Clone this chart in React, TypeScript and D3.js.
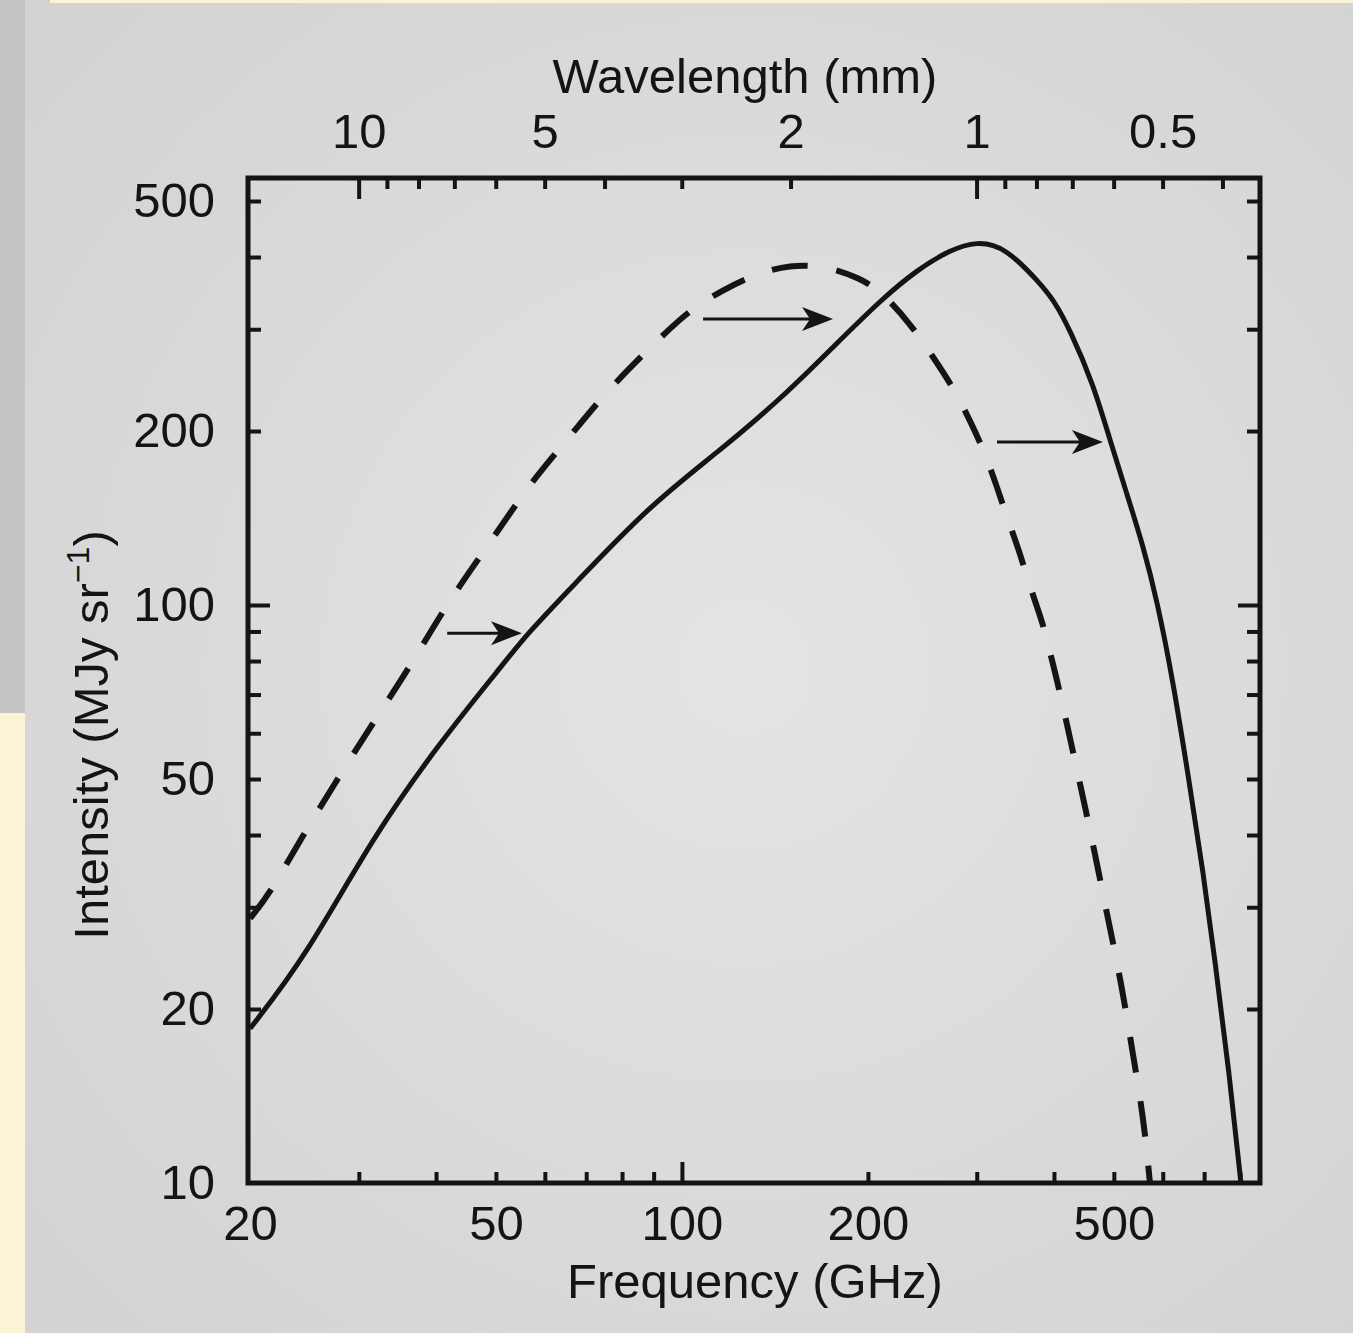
import { useEffect, useRef } from "react";
import * as d3 from "d3";

// c in mm*GHz, to turn frequency into wavelength for the top axis
const C_MM_GHZ = 299.79;

// solid curve (GHz / MJy sr^-1)
const solidFreq = [20, 24.6, 31.6, 40.6, 50.8, 56.1, 66.6, 88.8, 113.9, 145.7, 175.6, 211.5, 240.1, 271.5, 300.2, 333.3, 379.7, 401.5, 424.6, 462.5, 492.8, 525, 557.2, 587.2, 623, 661.4, 696.8, 728.6, 767.6, 802.8];
const solidInt = [18.5, 24.6, 39.7, 57.9, 77.8, 89.1, 107.9, 148.9, 183.2, 229, 279.5, 339.8, 379.8, 411.4, 426, 416.4, 360.6, 334.4, 299.1, 242.2, 193, 155.5, 127, 102, 74.2, 49.8, 34.8, 24.3, 15.7, 10];

// dashed curve
const dashedFreq = [20, 21.5, 24.1, 27.2, 31.3, 36.3, 41.7, 48.9, 56.8, 65.2, 76.5, 93.2, 103, 116.5, 130.3, 149.6, 171.7, 194.1, 211.5, 236.4, 254.9, 274.5, 292.4, 309.4, 323.5, 337, 352.4, 367.1, 383.9, 397, 409, 432.6, 459, 485.4, 513.4, 536.9, 559.4, 572];
const dashedInt = [28.7, 31.6, 39.2, 48.4, 61.5, 78.1, 100.8, 128, 162.6, 193, 238.4, 293.2, 323.8, 350.8, 372.3, 388.5, 385.5, 367.9, 346.7, 302.7, 268.6, 238.4, 208.9, 183.2, 160, 140.3, 123, 106.2, 93.1, 80.3, 70.7, 53.7, 40.3, 29.8, 22.4, 16.7, 12.8, 10];

// arrows from the dashed to the solid curve
const arrowFrom = [41.7, 108.2, 323.5];
const arrowTo = [55.1, 175.6, 480.1];
const arrowLevel = [89.4, 312.4, 191.4];

// ticks
const freqLabels = [20, 50, 100, 200, 500];
const freqMajor = [100];
const freqMinor = [30, 40, 50, 60, 70, 80, 90, 200, 300, 400, 500, 600, 700, 800];
const waveLabels = [10, 5, 2, 1, 0.5];
const waveMajor = [10, 1];
const waveMinor = [9, 8, 7, 6, 5, 4, 3, 2, 0.9, 0.8, 0.7, 0.6, 0.5, 0.4];
const intLabels = [10, 20, 50, 100, 200, 500];
const intMajor = [100];
const intMinor = [20, 30, 40, 50, 60, 70, 80, 90, 200, 300, 400, 500];

const FONT = "'Liberation Sans', Arial, Helvetica, sans-serif";
const INK = "#141414";

export default function App() {
    const ref = useRef<SVGSVGElement>(null);

    useEffect(() => {
        const svg = d3.select(ref.current);
        svg.selectAll("*").remove();

        const W = 1353, H = 1333;
        const left = 248, right = 1260, top = 178, bottom = 1183;

        // page look (photo of a book page)
        const defs = svg.append("defs");
        const grad = defs.append("radialGradient").attr("id", "page")
            .attr("cx", "55%").attr("cy", "50%").attr("r", "70%");
        grad.append("stop").attr("offset", "0%").attr("stop-color", "#e4e4e4");
        grad.append("stop").attr("offset", "100%").attr("stop-color", "#d3d3d3");
        svg.append("rect").attr("width", W).attr("height", H).attr("fill", "url(#page)");
        svg.append("rect").attr("x", 0).attr("y", 0).attr("width", 25).attr("height", 713).attr("fill", "#c4c4c4");
        svg.append("rect").attr("x", 0).attr("y", 713).attr("width", 25).attr("height", H - 713).attr("fill", "#fbf3d6");
        svg.append("rect").attr("x", 50).attr("y", 0).attr("width", W - 50).attr("height", 3).attr("fill", "#fbf3d6");

        const x = d3.scaleLog().domain([19.85, 862]).range([left, right]);
        const xTop = d3.scaleLog().domain([C_MM_GHZ / 19.85, C_MM_GHZ / 862]).range([left, right]);
        const y = d3.scaleLog().domain([10, 548]).range([bottom, top]);

        const styleAxis = (g: any) => {
            g.select(".domain").remove();
            g.attr("font-family", FONT).attr("font-size", 49);
            g.selectAll("line").attr("stroke", INK).attr("stroke-width", 4);
            g.selectAll("text").attr("fill", INK);
        };

        // bottom axis
        svg.append("g").attr("transform", `translate(0,${bottom})`)
            .call(d3.axisBottom(x).tickValues(freqMinor).tickSize(-11).tickFormat(() => ""))
            .call(styleAxis);
        svg.append("g").attr("transform", `translate(0,${bottom})`)
            .call(d3.axisBottom(x).tickValues(freqMajor).tickSize(-21).tickFormat(() => ""))
            .call(styleAxis);
        svg.append("g").attr("transform", `translate(0,${bottom})`)
            .call(d3.axisBottom(x).tickValues(freqLabels).tickSize(0).tickPadding(22).tickFormat(d3.format("d")))
            .call(styleAxis);

        // top axis (wavelength)
        svg.append("g").attr("transform", `translate(0,${top})`)
            .call(d3.axisTop(xTop).tickValues(waveMinor).tickSize(-11).tickFormat(() => ""))
            .call(styleAxis);
        svg.append("g").attr("transform", `translate(0,${top})`)
            .call(d3.axisTop(xTop).tickValues(waveMajor).tickSize(-21).tickFormat(() => ""))
            .call(styleAxis);
        svg.append("g").attr("transform", `translate(0,${top})`)
            .call(d3.axisTop(xTop).tickValues(waveLabels).tickSize(0).tickPadding(30).tickFormat(d => String(d)))
            .call(styleAxis);

        // left axis
        svg.append("g").attr("transform", `translate(${left},0)`)
            .call(d3.axisLeft(y).tickValues(intMinor).tickSize(-13).tickFormat(() => ""))
            .call(styleAxis);
        svg.append("g").attr("transform", `translate(${left},0)`)
            .call(d3.axisLeft(y).tickValues(intMajor).tickSize(-22).tickFormat(() => ""))
            .call(styleAxis);
        svg.append("g").attr("transform", `translate(${left},0)`)
            .call(d3.axisLeft(y).tickValues(intLabels).tickSize(0).tickPadding(33).tickFormat(d3.format("d")))
            .call(styleAxis);

        // right axis (ticks only)
        svg.append("g").attr("transform", `translate(${right},0)`)
            .call(d3.axisRight(y).tickValues(intMinor).tickSize(-13).tickFormat(() => ""))
            .call(styleAxis);
        svg.append("g").attr("transform", `translate(${right},0)`)
            .call(d3.axisRight(y).tickValues(intMajor).tickSize(-22).tickFormat(() => ""))
            .call(styleAxis);

        // curves (basis smooths out small reading errors)
        const line = d3.line<[number, number]>()
            .x(d => x(d[0]))
            .y(d => y(d[1]))
            .curve(d3.curveBasis);

        svg.append("path")
            .datum(dashedFreq.map((f, i) => [f, dashedInt[i]] as [number, number]))
            .attr("fill", "none")
            .attr("stroke", INK)
            .attr("stroke-width", 6)
            .attr("stroke-dasharray", "36 29")
            .attr("d", line);

        svg.append("path")
            .datum(solidFreq.map((f, i) => [f, solidInt[i]] as [number, number]))
            .attr("fill", "none")
            .attr("stroke", INK)
            .attr("stroke-width", 5)
            .attr("stroke-linejoin", "round")
            .attr("d", line);

        // arrows
        arrowFrom.forEach((f, i) => {
            const x0 = x(f), x1 = x(arrowTo[i]), yy = y(arrowLevel[i]);
            svg.append("line")
                .attr("x1", x0).attr("x2", x1 - 20)
                .attr("y1", yy).attr("y2", yy)
                .attr("stroke", INK).attr("stroke-width", 3);
            svg.append("path")
                .attr("transform", `translate(${x1},${yy})`)
                .attr("d", "M0,0 L-31,-12 L-23,0 L-31,12 Z")
                .attr("fill", INK);
        });

        // frame
        svg.append("rect")
            .attr("x", left).attr("y", top)
            .attr("width", right - left).attr("height", bottom - top)
            .attr("fill", "none").attr("stroke", INK).attr("stroke-width", 5);

        // axis titles
        svg.append("text")
            .attr("x", 745).attr("y", 93)
            .attr("text-anchor", "middle")
            .attr("font-family", FONT).attr("font-size", 49).attr("fill", INK)
            .text("Wavelength (mm)");

        svg.append("text")
            .attr("x", 755).attr("y", 1298)
            .attr("text-anchor", "middle")
            .attr("font-family", FONT).attr("font-size", 49).attr("fill", INK)
            .text("Frequency (GHz)");

        const yTitle = svg.append("text")
            .attr("transform", "translate(108,735) rotate(-90)")
            .attr("text-anchor", "middle")
            .attr("font-family", FONT).attr("font-size", 49).attr("fill", INK);
        yTitle.append("tspan").text("Intensity (MJy sr");
        yTitle.append("tspan").attr("font-size", 32).attr("dy", -19).text("\u22121");
        yTitle.append("tspan").attr("dy", 19).text(")");
    }, []);

    return (
        <svg ref={ref} width={1353} height={1333}
            style={{ position: "absolute", left: 0, top: 0, display: "block" }} />
    );
}
